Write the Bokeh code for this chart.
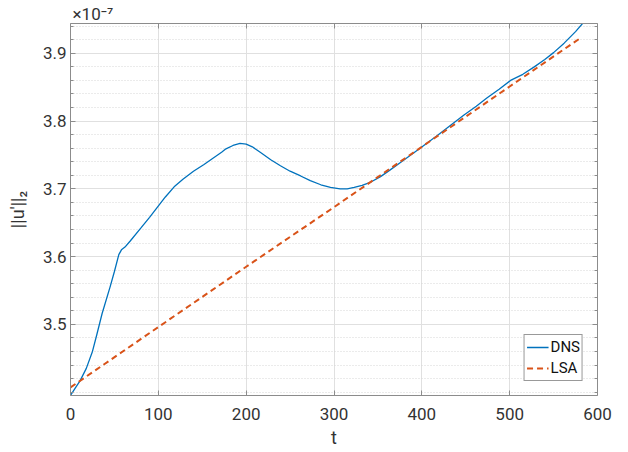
from bokeh.plotting import figure
from bokeh.models import LinearAxis, Range1d, FixedTicker, CustomJSTickFormatter
from bokeh.embed import file_html
from bokeh.resources import INLINE

# DNS norm history (units of 1e-7)
dns_t = [0, 5, 11, 18, 25, 30, 36, 45, 50, 55, 58, 62, 68, 80, 90, 99, 108, 118, 128,
         140, 152, 163, 172, 177, 185, 193, 200, 207, 216, 228, 239, 250, 262, 273,
         285, 296, 307, 315, 323, 332, 342, 353, 364, 380, 398, 418, 435, 448, 462,
         474, 488, 501, 515, 528, 540, 550, 562, 575, 585]
dns_v = [3.395, 3.405, 3.417, 3.435, 3.460, 3.485, 3.516, 3.555, 3.578, 3.603, 3.610,
         3.614, 3.623, 3.642, 3.658, 3.673, 3.688, 3.703, 3.714, 3.726, 3.736, 3.746,
         3.754, 3.759, 3.764, 3.767, 3.766, 3.762, 3.754, 3.743, 3.734, 3.726, 3.719,
         3.712, 3.706, 3.702, 3.700, 3.700, 3.702, 3.705, 3.710, 3.718, 3.728, 3.743,
         3.760, 3.779, 3.796, 3.809, 3.822, 3.834, 3.847, 3.860, 3.869, 3.880, 3.891,
         3.901, 3.915, 3.932, 3.947]

# LSA prediction (units of 1e-7)
lsa_t = [0, 100, 200, 300, 400, 500, 580]
lsa_v = [3.407, 3.496, 3.585, 3.673, 3.762, 3.851, 3.922]

x_ticks = [0, 100, 200, 300, 400, 500, 600]
y_ticks = [3.5, 3.6, 3.7, 3.8, 3.9]
y_minor = [3.40, 3.42, 3.44, 3.46, 3.48, 3.52, 3.54, 3.56, 3.58, 3.62, 3.64, 3.66,
           3.68, 3.72, 3.74, 3.76, 3.78, 3.82, 3.84, 3.86, 3.88, 3.92, 3.94]

FONT = "Roboto"
AX = "#8c8c8c"
TXT = "#333333"

p = figure(frame_width=527, frame_height=372, output_backend="svg", toolbar_location=None,
           x_range=Range1d(0, 600), y_range=Range1d(3.395, 3.944),
           min_border_left=70, min_border_right=23, min_border_top=23, min_border_bottom=50)
p.outline_line_color = None
p.background_fill_color = "white"

p.title.text = "×10⁻⁷"
p.title.align = "left"
p.title.offset = 2
p.title.text_font = FONT
p.title.text_font_size = "17px"
p.title.text_font_style = "normal"
p.title.text_color = TXT
p.title.standoff = 0

p.line(dns_t, dns_v, line_color="#0072BD", line_width=1.3, legend_label="DNS")
p.line(lsa_t, lsa_v, line_color="#D95319", line_width=2, line_dash="6 4", legend_label="LSA")

xt = FixedTicker(ticks=x_ticks, minor_ticks=[])
yt = FixedTicker(ticks=y_ticks, minor_ticks=y_minor)

def style(ax):
    ax.axis_line_color = AX
    ax.major_tick_line_color = AX
    ax.minor_tick_line_color = AX
    ax.major_tick_in = 5
    ax.major_tick_out = 0
    ax.minor_tick_in = 3
    ax.minor_tick_out = 0
    ax.major_label_text_font = FONT
    ax.major_label_text_color = TXT
    ax.major_label_text_font_size = "17px"
    ax.axis_label_text_font = FONT
    ax.axis_label_text_font_style = "normal"
    ax.axis_label_text_color = TXT
    ax.axis_label_text_font_size = "18px"

p.xaxis.ticker = xt
p.yaxis.ticker = yt
style(p.xaxis[0])
style(p.yaxis[0])
p.xaxis.axis_label = "t"
p.xaxis.major_label_standoff = 12
p.xaxis.axis_label_standoff = 4
p.yaxis.axis_label = "||u'||₂"
p.yaxis.major_label_standoff = 4
p.yaxis.axis_label_standoff = 12

blank = CustomJSTickFormatter(code="return ''")
top = LinearAxis(ticker=FixedTicker(ticks=x_ticks, minor_ticks=[]), formatter=blank)
style(top)
top.major_label_standoff = 0
p.add_layout(top, "above")
right = LinearAxis(ticker=FixedTicker(ticks=y_ticks, minor_ticks=y_minor), formatter=blank)
style(right)
right.major_label_standoff = 0
p.add_layout(right, "right")

p.xgrid.ticker = xt
p.ygrid.ticker = yt
p.xgrid.grid_line_color = "#e0e0e0"
p.ygrid.grid_line_color = "#e0e0e0"
p.ygrid.minor_grid_line_color = "#d6d6d6"
p.ygrid.minor_grid_line_dash = "1 2"

lg = p.legend[0]
lg.location = "bottom_right"
lg.margin = 14
lg.label_text_font = FONT
lg.label_text_font_size = "15px"
lg.label_text_color = "#111111"
lg.border_line_color = "#333333"
lg.border_line_width = 1
lg.padding = 2
lg.spacing = 1
lg.glyph_width = 22
lg.glyph_height = 20
lg.label_standoff = 2
lg.label_height = 20
lg.background_fill_alpha = 1

open("out.html", "w").write(file_html(p, INLINE))
